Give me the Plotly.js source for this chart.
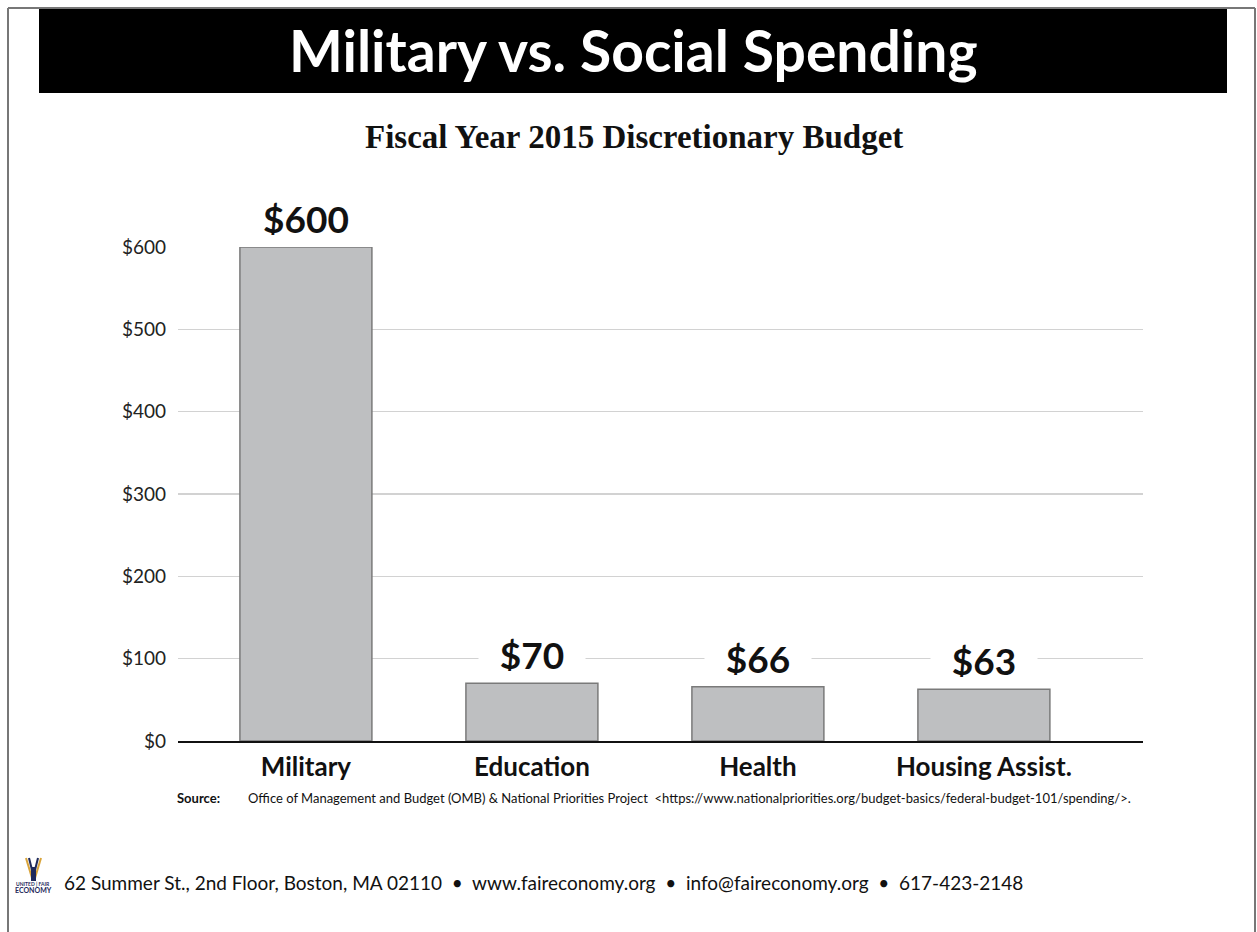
<!DOCTYPE html>
<html>
<head>
<meta charset="utf-8">
<script src="https://cdn.plot.ly/plotly-3.0.1.min.js"></script>
<style>
  html, body { margin: 0; padding: 0; background: #fff; }
  #chart { width: 1257px; height: 932px; }
</style>
</head>
<body>
<div id="chart"></div>
<script>
// ---- Data ----
const categories = ["Military", "Education", "Health", "Housing Assist."];
const values = [600, 70, 66, 63];
const valueLabels = ["$600", "$70", "$66", "$63"];
const yTickVals = [0, 100, 200, 300, 400, 500, 600];
const yTickText = ["$0", "$100", "$200", "$300", "$400", "$500", "$600"];

const titleText = "Military vs. Social Spending";
const subtitleText = "Fiscal Year 2015 Discretionary Budget";
const sourceLabel = "Source:";
const sourceText = "Office of Management and Budget (OMB) &amp; National Priorities Project  &lt;https://www.nationalpriorities.org/budget-basics/federal-budget-101/spending/&gt;.";
const footerText = "62 Summer St., 2nd Floor, Boston, MA 02110  •  www.faireconomy.org  •  info@faireconomy.org  •  617-423-2148";

// ---- Layout helpers (pixel -> paper) ----
const L = 178, R = 1143, T = 247, B = 741;
const xp = px => (px - L) / (R - L);
const yp = py => (B - py) / (B - T);

const FONT = "Lato, 'Open Sans', sans-serif";

const trace = {
  type: "bar",
  x: categories,
  y: values,
  marker: { color: "#bebfc1", line: { color: "#7a7a7a", width: 1.5 } },
  hoverinfo: "skip",
  showlegend: false
};

const annotations = [];
// Value labels above bars (white background hides gridlines)
categories.forEach((c, i) => {
  annotations.push({
    x: c, y: values[i], xref: "x", yref: "y",
    text: "<b>" + valueLabels[i] + "</b>",
    showarrow: false, yanchor: "middle", yshift: 29,
    bgcolor: "#ffffff", width: 106, height: 34, borderpad: 0,
    font: { family: FONT, size: 37, color: "#111" }
  });
});
// Title
annotations.push({
  xref: "paper", yref: "paper", x: xp(633), y: yp(50),
  text: "<b>" + titleText + "</b>", showarrow: false,
  xanchor: "center", yanchor: "middle",
  font: { family: FONT, size: 57, color: "#ffffff" }
});
// Subtitle
annotations.push({
  xref: "paper", yref: "paper", x: xp(634), y: yp(137),
  text: "<b>" + subtitleText + "</b>", showarrow: false,
  xanchor: "center", yanchor: "middle",
  font: { family: "'Liberation Serif', 'DejaVu Serif', serif", size: 33, color: "#111" }
});
// Source
annotations.push({
  xref: "paper", yref: "paper", x: xp(175), y: yp(798),
  text: "<b>" + sourceLabel + "</b>", showarrow: false,
  xanchor: "left", yanchor: "middle",
  font: { family: FONT, size: 13, color: "#111" }
});
annotations.push({
  xref: "paper", yref: "paper", x: xp(246), y: yp(798),
  text: sourceText, showarrow: false,
  xanchor: "left", yanchor: "middle",
  font: { family: FONT, size: 13, color: "#111" }
});
// Footer
annotations.push({
  xref: "paper", yref: "paper", x: xp(62), y: yp(882),
  text: footerText, showarrow: false,
  xanchor: "left", yanchor: "middle",
  font: { family: FONT, size: 19, color: "#111" }
});
// Logo text
annotations.push({
  xref: "paper", yref: "paper", x: xp(33), y: yp(884),
  text: "<b>UNITED | FAIR</b>", showarrow: false,
  xanchor: "center", yanchor: "middle",
  font: { family: FONT, size: 5, color: "#1f2a5c" }
});
annotations.push({
  xref: "paper", yref: "paper", x: xp(33), y: yp(890),
  text: "<b>ECONOMY</b>", showarrow: false,
  xanchor: "center", yanchor: "middle",
  font: { family: FONT, size: 7, color: "#1f2a5c" }
});

const shapes = [
  // page frame
  { type: "line", xref: "paper", yref: "paper", x0: xp(8), x1: xp(8), y0: yp(8), y1: yp(940), line: { color: "#777", width: 2 } },
  { type: "line", xref: "paper", yref: "paper", x0: xp(8), x1: xp(1255), y0: yp(8), y1: yp(8), line: { color: "#777", width: 2 } },
  { type: "line", xref: "paper", yref: "paper", x0: xp(1255), x1: xp(1255), y0: yp(8), y1: yp(940), line: { color: "#777", width: 2 } },
  // black title bar
  { type: "rect", xref: "paper", yref: "paper", x0: xp(39), x1: xp(1227), y0: yp(93), y1: yp(9), fillcolor: "#000", line: { width: 0 }, layer: "below" },
  // logo (simplified)
  { type: "line", xref: "paper", yref: "paper", x0: xp(26), x1: xp(32), y0: yp(858), y1: yp(878), line: { color: "#d9a43a", width: 2 } },
  { type: "line", xref: "paper", yref: "paper", x0: xp(41), x1: xp(35), y0: yp(858), y1: yp(878), line: { color: "#d9a43a", width: 2 } },
  { type: "line", xref: "paper", yref: "paper", x0: xp(29), x1: xp(33), y0: yp(858), y1: yp(874), line: { color: "#1f2a5c", width: 2 } },
  { type: "line", xref: "paper", yref: "paper", x0: xp(38), x1: xp(34), y0: yp(858), y1: yp(874), line: { color: "#1f2a5c", width: 2 } },
  { type: "rect", xref: "paper", yref: "paper", x0: xp(31), x1: xp(36), y0: yp(881), y1: yp(867), fillcolor: "#1f2a5c", line: { width: 0 } }
];

const layout = {
  width: 1257, height: 932,
  margin: { l: L, r: 1257 - R, t: T, b: 932 - B, pad: 0 },
  paper_bgcolor: "#ffffff", plot_bgcolor: "#ffffff",
  bargap: 0.416,
  xaxis: {
    type: "category",
    range: [-0.566, 3.704],
    showgrid: false, zeroline: false,
    showline: true, linecolor: "#111", linewidth: 2,
    ticks: "", ticklabelstandoff: 2,
    tickfont: { family: FONT, size: 26, color: "#111", weight: "bold" },
    fixedrange: true
  },
  yaxis: {
    range: [0, 600],
    tickvals: yTickVals, ticktext: yTickText,
    showgrid: true, gridcolor: "#d2d2d2", gridwidth: 1.5,
    zeroline: false, showline: false, ticks: "",
    ticklabelstandoff: 11,
    tickfont: { family: FONT, size: 19, color: "#222" },
    fixedrange: true
  },
  annotations: annotations,
  shapes: shapes,
  showlegend: false
};

Plotly.newPlot("chart", [trace], layout, { displayModeBar: false, staticPlot: true });
</script>
</body>
</html>
